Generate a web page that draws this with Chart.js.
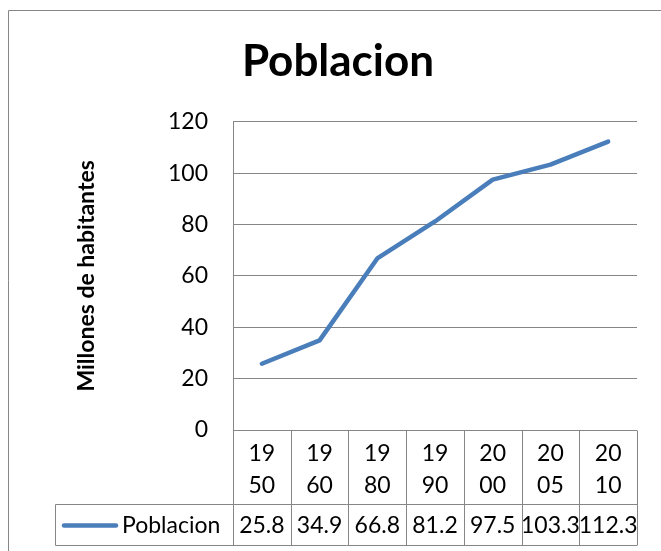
<!DOCTYPE html>
<html>
<head>
<meta charset="utf-8">
<script src="https://cdn.jsdelivr.net/npm/chart.js@4"></script>
<style>
  body { margin: 0; background: #fff; }
  #wrap { width: 661px; height: 551px; }
</style>
</head>
<body>
<div id="wrap"><canvas id="chart" width="661" height="551"></canvas></div>
<script>
const years = ['1950', '1960', '1980', '1990', '2000', '2005', '2010'];
const population = [25.8, 34.9, 66.8, 81.2, 97.5, 103.3, 112.3];
const seriesName = 'Poblacion';
const yTicks = { min: 0, max: 120, step: 20 };

const lineColor = '#4A7EBB';
const gridColor = '#868686';
const fontFamily = 'Lato, "Open Sans", sans-serif';

// white background + outer chart border (left and top edges visible)
const frame = {
    id: 'frame',
    beforeDraw(chart) {
        const { ctx, width, height } = chart;
        ctx.save();
        ctx.fillStyle = '#fff';
        ctx.fillRect(0, 0, width, height);
        ctx.strokeStyle = gridColor;
        ctx.lineWidth = 1;
        ctx.beginPath();
        ctx.moveTo(8.5, height);
        ctx.lineTo(8.5, 10.5);
        ctx.lineTo(width, 10.5);
        ctx.stroke();
        ctx.restore();
    }
};

// Excel style data table under the plot
const dataTable = {
    id: 'dataTable',
    afterDraw(chart) {
        const { ctx, chartArea: a, scales: { x } } = chart;
        const colW = (a.right - a.left) / years.length;
        const top = Math.round(a.bottom) + 0.5;
        const mid = top + 74;
        const bot = mid + 41;
        const legendLeft = 55.5;

        ctx.save();
        ctx.strokeStyle = gridColor;
        ctx.lineWidth = 1;
        ctx.beginPath();
        // horizontal lines
        ctx.moveTo(a.left, top); ctx.lineTo(a.right, top);
        ctx.moveTo(legendLeft, mid); ctx.lineTo(a.right, mid);
        ctx.moveTo(legendLeft, bot); ctx.lineTo(a.right, bot);
        // vertical lines
        for (let i = 0; i <= years.length; i++) {
            const vx = Math.round(a.left + i * colW) + 0.5;
            ctx.moveTo(vx, top); ctx.lineTo(vx, bot);
        }
        ctx.moveTo(legendLeft, mid); ctx.lineTo(legendLeft, bot);
        ctx.stroke();

        ctx.fillStyle = '#000';
        ctx.font = '23px ' + fontFamily;
        ctx.textAlign = 'center';
        ctx.textBaseline = 'middle';
        years.forEach((yr, i) => {
            const cx = x.getPixelForValue(i);
            ctx.fillText(yr.slice(0, 2), cx, top + 23);
            ctx.fillText(yr.slice(2), cx, top + 55);
            ctx.fillText(String(population[i]), cx, mid + 21);
        });

        // legend key
        ctx.strokeStyle = lineColor;
        ctx.lineWidth = 4.5;
        ctx.lineCap = 'round';
        ctx.beginPath();
        ctx.moveTo(64, mid + 21);
        ctx.lineTo(116, mid + 21);
        ctx.stroke();
        ctx.textAlign = 'left';
        ctx.fillText(seriesName, 122, mid + 21);
        ctx.restore();
    }
};

new Chart(document.getElementById('chart'), {
    type: 'line',
    data: {
        labels: years,
        datasets: [{
            label: seriesName,
            data: population,
            borderColor: lineColor,
            borderWidth: 4.5,
            borderCapStyle: 'round',
            borderJoinStyle: 'round',
            pointRadius: 0,
            tension: 0,
            fill: false
        }]
    },
    options: {
        responsive: false,
        animation: false,
        layout: { padding: { left: 39, right: 24, top: 0, bottom: 0 } },
        plugins: {
            legend: { display: false },
            tooltip: { enabled: false },
            title: {
                display: true,
                text: 'Poblacion',
                color: '#000',
                font: { family: fontFamily, size: 44, weight: 'bold', lineHeight: 1.2 },
                padding: { top: 35, bottom: 34 }
            }
        },
        scales: {
            x: {
                type: 'category',
                offset: true,
                grid: { display: false },
                border: { display: false },
                ticks: { display: false },
                afterFit(scale) { scale.height = 121; }
            },
            y: {
                min: yTicks.min,
                max: yTicks.max,
                ticks: {
                    stepSize: yTicks.step,
                    color: '#000',
                    padding: 25,
                    font: { family: fontFamily, size: 23 }
                },
                grid: { color: gridColor, drawTicks: false },
                border: { display: true, color: gridColor },
                title: {
                    display: true,
                    text: 'Millones de habitantes',
                    color: '#000',
                    font: { family: fontFamily, size: 23, weight: 'bold', lineHeight: 1.2 },
                    padding: { top: 34, bottom: 0 }
                },
                afterFit(scale) { scale.width = 194; }
            }
        }
    },
    plugins: [frame, dataTable]
});
</script>
</body>
</html>
